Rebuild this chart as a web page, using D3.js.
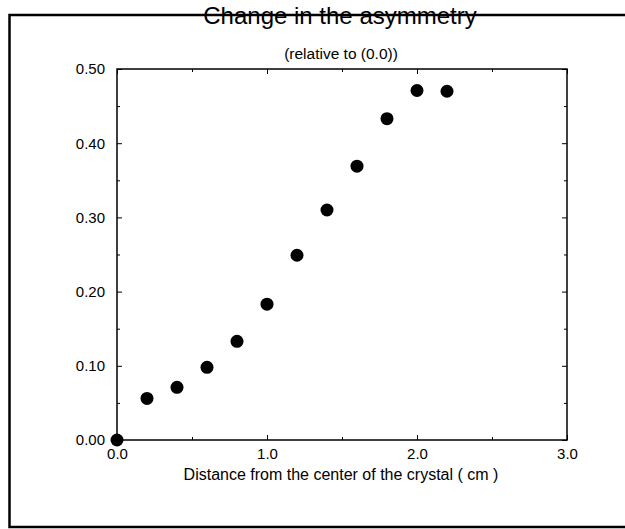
<!DOCTYPE html>
<html>
<head>
<meta charset="utf-8">
<script src="https://cdn.jsdelivr.net/npm/d3@7"></script>
<style>
  html, body { margin: 0; padding: 0; background: #fff; }
  svg { display: block; font-family: "Liberation Sans", Arial, Helvetica, sans-serif; }
</style>
</head>
<body>
<svg id="chart" width="625" height="529"></svg>
<script>
// ---- data ----
const distances = [0.0, 0.2, 0.4, 0.6, 0.8, 1.0, 1.2, 1.4, 1.6, 1.8, 2.0, 2.2];
const asymmetry = [0.000, 0.056, 0.071, 0.098, 0.133, 0.183, 0.249, 0.310, 0.369, 0.433, 0.471, 0.470];
const xMajorTicks = [0.0, 1.0, 2.0, 3.0];
const xMinorTicks = [0.5, 1.5, 2.5];
const yMajorTicks = [0.0, 0.1, 0.2, 0.3, 0.4, 0.5];
const yMinorTicks = [0.05, 0.15, 0.25, 0.35, 0.45];
const titleText = "Change in the asymmetry";
const subtitleText = "(relative to (0.0))";
const xLabelText = "Distance from the center of the crystal ( cm )";

// ---- layout ----
const svg = d3.select("#chart");
const plot = { left: 117, top: 69, right: 567, bottom: 440 };

const x = d3.scaleLinear().domain([0, 3]).range([plot.left, plot.right]);
const y = d3.scaleLinear().domain([0, 0.5]).range([plot.bottom, plot.top]);

// outer frame (right side runs off the canvas)
svg.append("rect")
  .attr("x", 9.5).attr("y", 15)
  .attr("width", 700).attr("height", 512)
  .attr("fill", "none").attr("stroke", "#000").attr("stroke-width", 2.5);

// plot box
svg.append("rect")
  .attr("x", plot.left).attr("y", plot.top)
  .attr("width", plot.right - plot.left).attr("height", plot.bottom - plot.top)
  .attr("fill", "none").attr("stroke", "#000").attr("stroke-width", 1.5);

function styleAxis(g, fs) {
  g.select(".domain").remove();
  g.selectAll(".tick line").attr("stroke", "#000").attr("stroke-width", 1);
  g.selectAll(".tick text").attr("fill", "#000").style("font-size", fs + "px");
}

// major axes with labels
svg.append("g").attr("transform", `translate(0,${plot.bottom})`)
  .call(d3.axisBottom(x).tickValues(xMajorTicks).tickFormat(d3.format(".1f")).tickSize(-5).tickPadding(8))
  .call(g => styleAxis(g, 15));
svg.append("g").attr("transform", `translate(${plot.left},0)`)
  .call(d3.axisLeft(y).tickValues(yMajorTicks).tickFormat(d3.format(".2f")).tickSize(-5).tickPadding(12))
  .call(g => styleAxis(g, 15));
// mirrored major ticks
svg.append("g").attr("transform", `translate(0,${plot.top})`)
  .call(d3.axisTop(x).tickValues(xMajorTicks).tickFormat("").tickSize(-5))
  .call(g => styleAxis(g, 1));
svg.append("g").attr("transform", `translate(${plot.right},0)`)
  .call(d3.axisRight(y).tickValues(yMajorTicks).tickFormat("").tickSize(-5))
  .call(g => styleAxis(g, 1));
// minor ticks on all sides
svg.append("g").attr("transform", `translate(0,${plot.bottom})`)
  .call(d3.axisBottom(x).tickValues(xMinorTicks).tickFormat("").tickSize(-3))
  .call(g => styleAxis(g, 1));
svg.append("g").attr("transform", `translate(0,${plot.top})`)
  .call(d3.axisTop(x).tickValues(xMinorTicks).tickFormat("").tickSize(-3))
  .call(g => styleAxis(g, 1));
svg.append("g").attr("transform", `translate(${plot.left},0)`)
  .call(d3.axisLeft(y).tickValues(yMinorTicks).tickFormat("").tickSize(-3))
  .call(g => styleAxis(g, 1));
svg.append("g").attr("transform", `translate(${plot.right},0)`)
  .call(d3.axisRight(y).tickValues(yMinorTicks).tickFormat("").tickSize(-3))
  .call(g => styleAxis(g, 1));

// points
svg.append("g").selectAll("circle")
  .data(distances.map((d, i) => ({ d, a: asymmetry[i] })))
  .join("circle")
  .attr("cx", p => x(p.d))
  .attr("cy", p => y(p.a))
  .attr("r", 6.5)
  .attr("fill", "#000");

// titles
svg.append("text")
  .attr("x", 340).attr("y", 23.5)
  .attr("text-anchor", "middle")
  .style("font-size", "24px")
  .text(titleText);
svg.append("text")
  .attr("x", 341).attr("y", 59)
  .attr("text-anchor", "middle")
  .style("font-size", "15.5px")
  .text(subtitleText);
svg.append("text")
  .attr("x", 341).attr("y", 480)
  .attr("text-anchor", "middle")
  .style("font-size", "16px")
  .text(xLabelText);
</script>
</body>
</html>
